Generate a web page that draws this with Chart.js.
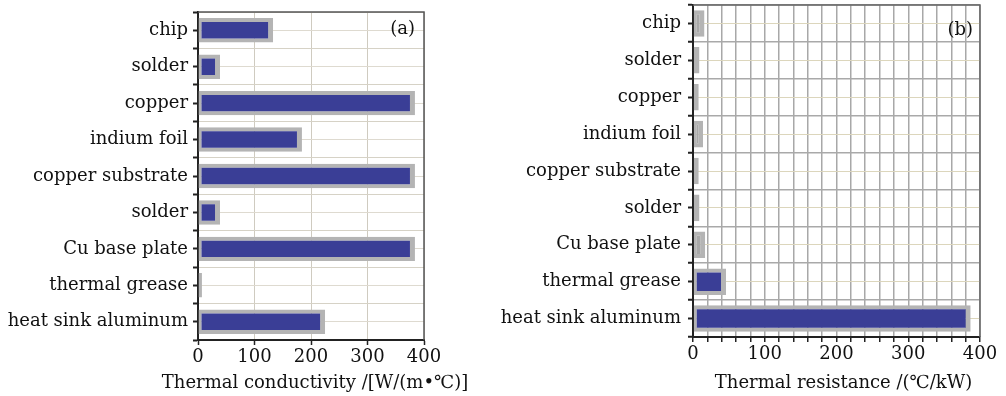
<!DOCTYPE html>
<html>
<head>
<meta charset="utf-8">
<script src="https://cdn.jsdelivr.net/npm/chart.js@4.4.1/dist/chart.umd.min.js"></script>
<style>
  html, body { margin: 0; padding: 0; background: #fff; }
  #wrap { position: relative; width: 1006px; height: 396px; }
  .panel { position: absolute; top: 0; height: 396px; }
</style>
</head>
<body>
<div id="wrap">
  <div class="panel" style="left:0;width:500px"><canvas id="condChart"></canvas></div>
  <div class="panel" style="left:500px;width:506px"><canvas id="resChart"></canvas></div>
</div>
<script>
// Layer stack, top to bottom
const layers = ['chip', 'solder', 'copper', 'indium foil', 'copper substrate',
                'solder', 'Cu base plate', 'thermal grease', 'heat sink aluminum'];

// (a) thermal conductivity, W/(m·K)
const conductivity = [133, 39, 384, 184, 384, 39, 384, 7, 225];
// (b) thermal resistance, ℃/kW
const resistance = [16, 9, 8, 14, 8, 9, 17, 46, 387];

const condTickLabels = [0, 100, 200, 300, 400];
const resTickLabels  = [0, 100, 200, 300, 400];

const FONT  = 'DejaVu Serif';
const FSIZE = 18;
const BLUE  = '#3a3e96';
const SHADE = '#b4b4b4';

// top + right edge of the plot box
const framePlugin = {
    id: 'frame',
    beforeDatasetsDraw(chart, args, opts) {
        const { ctx, chartArea: a } = chart;
        ctx.save();
        ctx.strokeStyle = opts.color || '#555';
        ctx.lineWidth = opts.width || 1.5;
        ctx.beginPath();
        ctx.moveTo(a.left, a.top);
        ctx.lineTo(a.right, a.top);
        ctx.lineTo(a.right, a.bottom);
        ctx.stroke();
        ctx.restore();
    }
};

// "(a)" / "(b)" tag and the x-axis title (wider than the plot, so drawn here)
const panelText = {
    id: 'panelText',
    afterDraw(chart, args, opts) {
        const { ctx, chartArea: a } = chart;
        ctx.save();
        ctx.font = FSIZE + 'px "' + FONT + '"';
        ctx.fillStyle = '#111';
        ctx.textBaseline = 'middle';
        ctx.textAlign = 'right';
        ctx.fillText(opts.tag, a.right - opts.tagDx, a.top + opts.tagDy);
        ctx.textAlign = 'center';
        ctx.fillText(opts.title, (a.left + a.right) / 2 + opts.titleDx, opts.titleY);
        ctx.restore();
    }
};

function makeChart(id, values, cfg) {
    return new Chart(document.getElementById(id), {
        type: 'bar',
        data: {
            labels: layers,
            datasets: [{
                data: values,
                backgroundColor: c => (c.raw < 25 ? '#a8a8a8' : BLUE),
                borderColor: SHADE,
                borderWidth: { top: 4, bottom: 4, left: 3, right: 5 },
                borderSkipped: false,
                barPercentage: cfg.barPct,
                categoryPercentage: 1
            }]
        },
        options: {
            indexAxis: 'y',
            responsive: true,
            maintainAspectRatio: false,
            animation: false,
            layout: { padding: { top: cfg.top, right: cfg.right, left: 0, bottom: 0 } },
            plugins: {
                legend: { display: false },
                tooltip: { enabled: false },
                frame: { color: cfg.frameColor, width: 1.5 },
                panelText: { tag: cfg.tag, tagDx: cfg.tagDx, tagDy: cfg.tagDy,
                             title: cfg.title, titleDx: cfg.titleDx, titleY: 383 }
            },
            scales: {
                x: {
                    type: 'linear', min: 0, max: 400,
                    ticks: {
                        stepSize: cfg.step, autoSkip: false, maxRotation: 0, padding: 2,
                        color: '#111', font: { family: FONT, size: FSIZE },
                        callback: v => (cfg.tickLabels.includes(v) ? v : '')
                    },
                    grid: { color: cfg.vGrid, lineWidth: cfg.vGridW, tickColor: '#222', tickLength: 5, tickWidth: 1.5 },
                    border: { color: '#222', width: 2 },
                    afterFit: s => { s.height = cfg.xH; s.paddingLeft = 0; s.paddingRight = 0; }
                },
                y: {
                    weight: 1,
                    ticks: { color: '#111', font: { family: FONT, size: FSIZE }, padding: cfg.labelPad },
                    grid: { offset: true, color: cfg.hGrid, lineWidth: cfg.hGridW, tickColor: '#222', tickLength: 5, tickWidth: 2 },
                    border: { color: '#222', width: 2 },
                    afterFit: s => { s.width = cfg.yW; s.paddingTop = 0; s.paddingBottom = 0; }
                },
                // second category axis: grid lines + ticks through the bar centres
                yc: {
                    type: 'category', position: 'left', axis: 'y', weight: 0, offset: true,
                    ticks: { display: false },
                    grid: { offset: false, color: cfg.cGrid, lineWidth: 1, tickColor: '#222', tickLength: 5, tickWidth: 2 },
                    border: { display: false },
                    afterFit: s => { s.width = 0; s.paddingTop = 0; s.paddingBottom = 0; }
                }
            }
        },
        plugins: [framePlugin, panelText]
    });
}

makeChart('condChart', conductivity, {
    top: 12, right: 76, xH: 56, yW: 198, labelPad: 5, barPct: 0.67,
    step: 100, tickLabels: condTickLabels,
    vGrid: '#cfcbc0', vGridW: 1, hGrid: '#d6d2c6', hGridW: 1, cGrid: '#dedad0',
    frameColor: '#555',
    title: 'Thermal conductivity /[W/(m•℃)]', titleDx: 4,
    tag: '(a)', tagDx: 9, tagDy: 17
});

makeChart('resChart', resistance, {
    top: 5, right: 26, xH: 59, yW: 193, labelPad: 7, barPct: 0.72,
    step: 20, tickLabels: resTickLabels,
    vGrid: '#a8a8a8', vGridW: 1.5, hGrid: '#a9a9a9', hGridW: 1.5, cGrid: '#dcd6bc',
    frameColor: '#666',
    title: 'Thermal resistance /(℃/kW)', titleDx: 7,
    tag: '(b)', tagDx: 7, tagDy: 25
});
</script>
</body>
</html>
